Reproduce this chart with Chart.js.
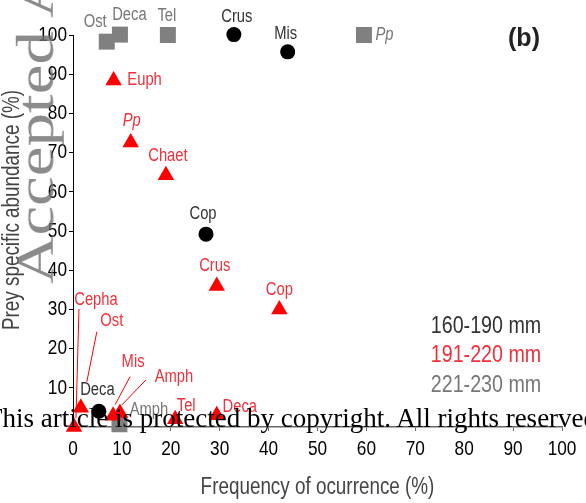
<!DOCTYPE html>
<html>
<head>
<meta charset="utf-8">
<script src="https://cdn.jsdelivr.net/npm/chart.js@4"></script>
<style>
  html, body { margin: 0; padding: 0; background: #fff; }
  #wrap { position: relative; width: 586px; height: 503px; overflow: hidden; }
  #wm { position: absolute; left: 8px; top: 284px; transform: rotate(-90deg) scale(1, 0.8); transform-origin: 0 0;
        font: 67px "Liberation Serif", "Times New Roman", serif; line-height: 67px;
        color: rgba(110, 110, 110, 0.8); white-space: nowrap; pointer-events: none; }
  #copy { position: absolute; left: -14px; top: 405px; font: 27px "Liberation Serif", "Times New Roman", serif;
          line-height: 27px; color: #000; white-space: nowrap; pointer-events: none; }
</style>
</head>
<body>
<div id="wrap">
  <canvas id="chart" width="586" height="503"></canvas>
  <div id="wm">Accepted Article</div>
  <div id="copy">This article is protected by copyright. All rights reserved</div>
</div>
<script>
// size classes
const sizeGroups = ['160-190 mm', '191-220 mm', '221-230 mm'];

// 160-190 mm (black circles)
const preyA = ['Crus', 'Mis', 'Cop', 'Deca'];
const freqA = [32.9, 43.9, 27.2, 5.3];
const abundA = [100.1, 95.7, 49.2, 4.0];

// 191-220 mm (red triangles)
const preyB = ['Euph', 'Pp', 'Chaet', 'Crus', 'Cop', 'Cepha', 'Ost', 'Mis', 'Amph', 'Tel', 'Deca'];
const freqB = [8.3, 11.8, 19.0, 29.4, 42.2, 0.2, 1.6, 8.2, 9.6, 20.9, 29.4];
const abundB = [88.4, 72.6, 64.2, 36.0, 30.0, 0.0, 4.9, 2.9, 3.6, 2.0, 3.0];

// 221-230 mm (grey squares)
const preyC = ['Ost', 'Deca', 'Tel', 'Pp', 'Amph'];
const freqC = [6.9, 9.6, 19.4, 59.5, 9.5];
const abundC = [98.3, 100.1, 100.0, 100.0, 0.7];

const xTicks = [0, 10, 20, 30, 40, 50, 60, 70, 80, 90, 100];

// check if a narrow font is installed, else squeeze Liberation Sans
function hasFont(name) {
    const c = document.createElement('canvas').getContext('2d');
    c.font = '40px monospace';
    const a = c.measureText('Frequency abc 123').width;
    c.font = '40px "' + name + '", monospace';
    return c.measureText('Frequency abc 123').width !== a;
}
const NARROW = hasFont('Liberation Sans Narrow');
const FF = NARROW ? '"Liberation Sans Narrow", sans-serif' : '"Liberation Sans", Arial, sans-serif';
const SX = NARROW ? 1 : 0.82;

const textColors = ['#333333', '#f0303a', '#777777'];

// label offsets from each marker (px): [dx, dy, leader line]
const layoutA = [[3, -18], [-2, -18], [-3, -20], [-1.5, -21.5]];
const layoutB = [
    [31, 0], [1, -21], [2, -19], [-2, -20], [0, -19.5],
    [22, -127, [5, -118, 2, -9]],
    [31, -87, [16, -76, 6, -26]],
    [20, -54, [17, -39, 2, -11]],
    [54, -36, [26, -33, 2, -8]],
    [11, -13], [23, -8]
];
const layoutC = [[-11.5, -20], [9.5, -19.5], [-1, -19], [20.5, 0], [29.5, -14.5]];
const layouts = [layoutA, layoutB, layoutC];

function toPoints(xs, ys) {
    return xs.map((x, i) => ({ x: x, y: ys[i] }));
}

// draw condensed text (the figure uses a narrow sans font)
function narrowText(ctx, text, x, y, size, color, align, style, rot) {
    ctx.save();
    ctx.translate(x, y);
    if (rot) ctx.rotate(rot);
    ctx.scale(SX, 1);
    ctx.font = (style || '') + size + 'px ' + FF;
    ctx.fillStyle = color;
    ctx.textAlign = align || 'center';
    ctx.textBaseline = 'middle';
    ctx.fillText(text, 0, 0);
    ctx.restore();
}

const textPlugin = {
    id: 'textPlugin',
    afterDatasetsDraw(chart) {
        const ctx = chart.ctx;
        chart.data.datasets.forEach((ds, di) => {
            const meta = chart.getDatasetMeta(di);
            meta.data.forEach((pt, i) => {
                const lay = layouts[di][i];
                const name = ds.names[i];
                narrowText(ctx, name, pt.x + lay[0], pt.y + lay[1], 18, textColors[di], 'center',
                    name === 'Pp' ? 'italic ' : '');
                if (lay[2]) {
                    const l = lay[2];
                    ctx.save();
                    ctx.strokeStyle = '#ff0000';
                    ctx.lineWidth = 1;
                    ctx.beginPath();
                    ctx.moveTo(pt.x + l[0], pt.y + l[1]);
                    ctx.lineTo(pt.x + l[2], pt.y + l[3]);
                    ctx.stroke();
                    ctx.restore();
                }
            });
        });
    },
    afterDraw(chart) {
        const ctx = chart.ctx;
        const xs = chart.scales.x, ys = chart.scales.y;
        // tick labels
        xs.ticks.forEach(t => {
            narrowText(ctx, String(t.value), xs.getPixelForValue(t.value), 449.5, 21, '#000');
        });
        ys.ticks.forEach(t => {
            if (t.value === 0) return;
            narrowText(ctx, String(t.value), 67, ys.getPixelForValue(t.value), 21, '#000', 'right');
        });
        // axis titles
        narrowText(ctx, 'Frequency of ocurrence (%)', (chart.chartArea.left + chart.chartArea.right) / 2, 488, 23, '#444');
        narrowText(ctx, 'Prey specific abundance (%)', 13, 210, 23, '#444', 'center', '', -Math.PI / 2);
        // size legend
        sizeGroups.forEach((g, i) => {
            narrowText(ctx, g, 486, 326 + i * 29.5, 24, textColors[i]);
        });
        // panel letter
        ctx.save();
        ctx.fillStyle = '#222';
        ctx.font = 'bold 25px "Liberation Sans", Arial, sans-serif';
        ctx.textAlign = 'center';
        ctx.textBaseline = 'middle';
        ctx.fillText('(b)', 524, 39);
        ctx.restore();
    }
};

new Chart(document.getElementById('chart'), {
    type: 'scatter',
    data: {
        datasets: [
            {
                label: sizeGroups[0], names: preyA, data: toPoints(freqA, abundA),
                pointStyle: 'circle', radius: 7.5, backgroundColor: '#000', borderColor: '#000', borderWidth: 0,
                clip: false, order: 0
            },
            {
                label: sizeGroups[1], names: preyB, data: toPoints(freqB, abundB),
                pointStyle: 'triangle', radius: 9.5, backgroundColor: '#ff0000', borderColor: '#ff0000', borderWidth: 0,
                clip: false, order: 1
            },
            {
                label: sizeGroups[2], names: preyC, data: toPoints(freqC, abundC),
                pointStyle: 'rect', radius: 11.3, backgroundColor: '#808080', borderColor: '#808080', borderWidth: 0,
                clip: false, order: 2
            }
        ]
    },
    options: {
        responsive: false,
        animation: false,
        layout: { padding: { top: 35, right: 24, bottom: 0, left: 0 } },
        plugins: { legend: { display: false }, tooltip: { enabled: false } },
        scales: {
            x: {
                type: 'linear', min: 0, max: 100,
                afterFit: s => { s.height = 76; },
                afterBuildTicks: s => { s.ticks = xTicks.map(v => ({ value: v })); },
                grid: { display: true, drawOnChartArea: false, drawTicks: true, tickLength: 4, color: '#666' },
                border: { display: true, color: '#666', width: 1.5 },
                ticks: { display: false }
            },
            y: {
                type: 'linear', min: 0, max: 100,
                afterFit: s => { s.width = 73; },
                grid: { display: true, drawOnChartArea: false, drawTicks: true, tickLength: 4, color: '#000' },
                border: { display: true, color: '#000', width: 1 },
                ticks: { display: false, stepSize: 10 }
            }
        }
    },
    plugins: [textPlugin]
});
</script>
</body>
</html>
